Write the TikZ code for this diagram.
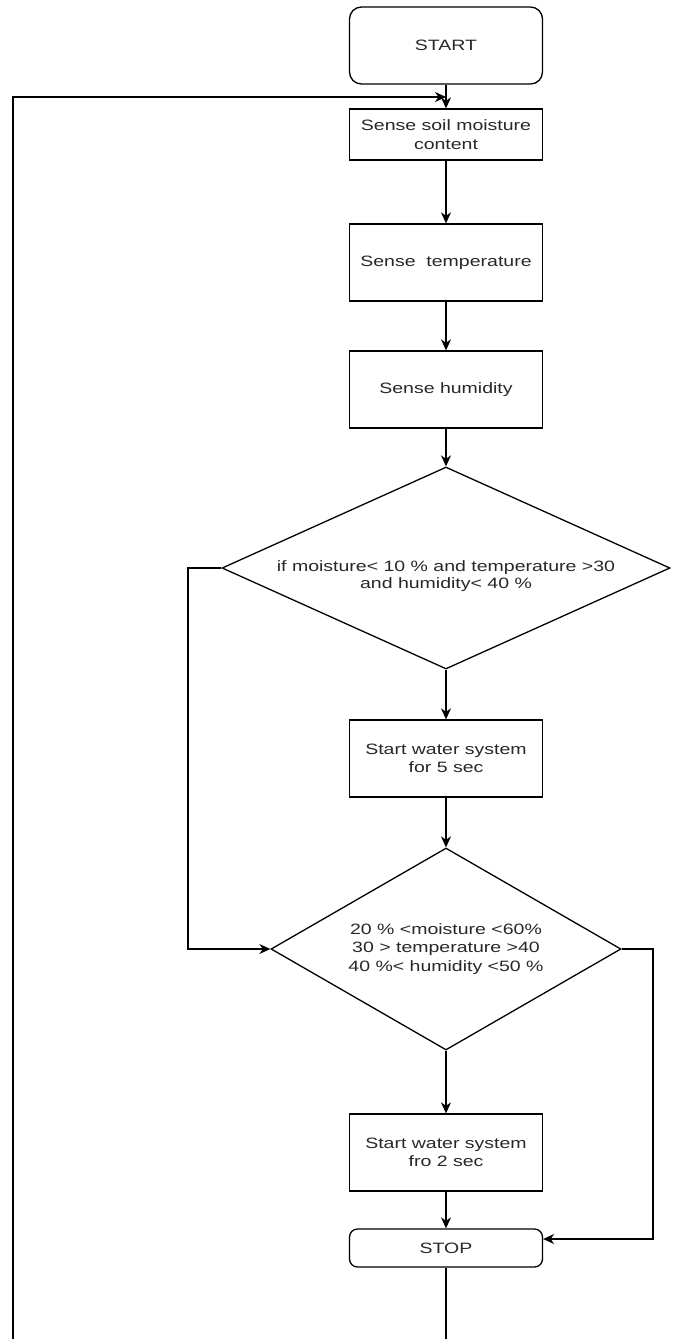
\documentclass[tikz,border=0pt]{standalone}
\usepackage{fontspec}
\setmainfont{Liberation Sans}[FakeStretch=1.3]
\usetikzlibrary{shapes.geometric,arrows.meta}
\definecolor{txt}{RGB}{40,40,40}
\tikzset{
  every node/.style={font=\fontsize{15}{18.5}\selectfont, text=txt},
  procbox/.style={draw, line width=1.3pt, minimum width=193pt, minimum height=77pt, inner sep=0pt, align=center},
  termbox/.style={procbox, rounded corners=12pt},
  decbox/.style={draw, line width=1.3pt, diamond, inner sep=0pt, align=center},
  arr/.style={line width=1.3pt, -{Stealth[length=11pt,width=10pt,inset=3.5pt]}},
  ln/.style={line width=1.3pt}
}
\begin{document}
\begin{tikzpicture}[x=1pt,y=-1pt]
\fill[white] (0,0) rectangle (675,1339);
\useasboundingbox (0,0) rectangle (675,1339);

\node[termbox] (start) at (446,45.5) {START};
\node[procbox, minimum height=51pt] (s1) at (446,134.5) {Sense soil moisture\\content};
\node[procbox] (s2) at (446,262.5) {Sense~ temperature};
\node[procbox] (s3) at (446,389.5) {Sense humidity};
\node[decbox, minimum width=448pt, minimum height=202pt] (d1) at (446,568)
  [label={[yshift=-8pt, align=center, font=\fontsize{15}{16.5}\selectfont]center:if moisture\textless{} 10 \% and temperature \textgreater30\\and humidity\textless{} 40 \%}] {};
\node[procbox] (w1) at (446,758.5) {Start water system\\for 5 sec};
\node[decbox, aspect=1.73, minimum width=350pt, minimum height=202pt] (d2) at (446,949)
  {20 \% \textless moisture \textless60\%\\30 \textgreater{} temperature \textgreater40\\40 \%\textless{} humidity \textless50 \%};
\node[procbox] (w2) at (446,1152.5) {Start water system\\fro 2 sec};
\node[procbox, minimum height=38pt, rounded corners=8pt] (stop) at (446,1248) {STOP};

\coordinate (lp) at (446,97);
\coordinate (la) at (188,568);
\coordinate (ra) at (653,1239);
\coordinate (bl) at (13,1360);

\draw[arr] (start) -- (s1);
\draw[arr] (s1) -- (s2);
\draw[arr] (s2) -- (s3);
\draw[arr] (s3) -- (d1);
\draw[arr] (d1) -- (w1);
\draw[arr] (w1) -- (d2);
\draw[arr] (d2) -- (w2);
\draw[arr] (w2) -- (stop);
\draw[arr] (d1.west) -- (la) |- (d2.west);
\draw[arr] (d2.east) -| (ra) -- (ra -| stop.east);
\draw[arr] (stop.south) |- (bl) |- (lp);
\end{tikzpicture}
\end{document}
